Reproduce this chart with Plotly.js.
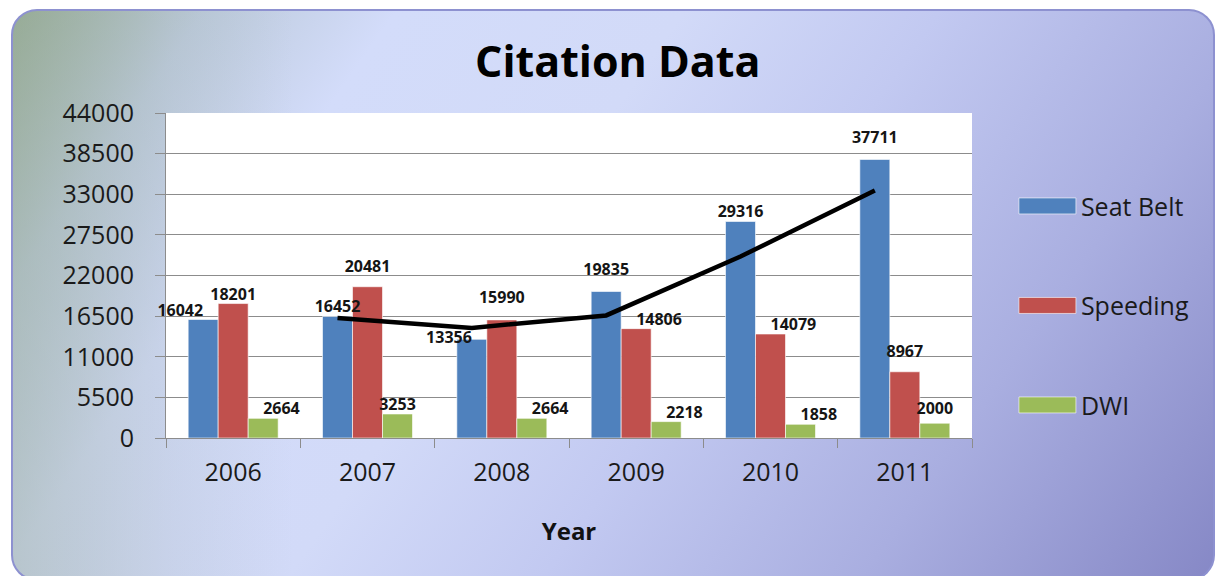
<!DOCTYPE html>
<html>
<head>
<meta charset="utf-8">
<script src="https://cdn.plot.ly/plotly-3.0.1.min.js"></script>
<style>
  html, body { margin: 0; padding: 0; width: 1216px; height: 576px; overflow: hidden; background: #ffffff; }
  #bg {
    position: absolute; left: 11px; top: 9px; width: 1200px; height: 568px;
    border: 2px solid #8d91d0; border-radius: 26px;
    background:
      linear-gradient(90deg, rgba(150,170,150,0.45) 0px, rgba(170,185,190,0.25) 160px, rgba(200,210,240,0) 280px),
      linear-gradient(125deg, #98ad97 0%, #bccadb 12%, #d3dcfa 24%, #d2daf8 42%, #c2c9f1 58%, #a9aee0 78%, #8688c6 100%);
  }
  #chart { position: absolute; left: 0; top: 0; width: 1216px; height: 576px; }
</style>
</head>
<body>
<div id="bg"></div>
<div id="chart"></div>
<script>
const years = ["2006", "2007", "2008", "2009", "2010", "2011"];
const seatBelt = [16042, 16452, 13356, 19835, 29316, 37711];
const speeding = [18201, 20481, 15990, 14806, 14079, 8967];
const dwi = [2664, 3253, 2664, 2218, 1858, 2000];
// 2-period moving average trend line of Seat Belt (as drawn in the chart)
const trendYears = ["2007", "2008", "2009", "2010", "2011"];
const trendValues = [16247, 14904, 16596, 24576, 33514];

const seriesNames = ["Seat Belt", "Speeding", "DWI"];
const colors = ["#4f81bd", "#c0504d", "#9bbb59"];

// data-label placement (style only)
const labelPositions = [
  ["top left", "top center", "middle left", "top center", "top center", "top center"],
  ["top center", "top center", "top center", "top right", "top right", "top center"],
  ["top right", "top center", "top right", "top right", "top right", "top center"]
];
const labelLift = [
  [0, 0, 0, 19, 0, 18],
  [0, 16, 19, 0, 0, 16],
  [0, 0, 0, 0, 0, 6]
];

const bargap = 0.33;
const barW = (1 - bargap) / 3;

const fam = "Open Sans, Noto Sans, sans-serif";
const labelFont = {family: fam, size: 16, color: "#151515", weight: "bold"};

function barTrace(name, vals, color, grp) {
  return {
    type: "bar", name: name, x: years, y: vals,
    marker: {color: color, line: {color: "rgba(255,255,255,0.6)", width: 1}},
    legendgroup: grp, hoverinfo: "x+y+name"
  };
}
function labelTrace(vals, k) {
  return {
    type: "scatter", mode: "markers+text", xaxis: "x2", yaxis: "y",
    x: years.map((y, i) => i + (k - 1) * barW), y: vals,
    marker: {size: labelLift[k], opacity: 0, color: "rgba(0,0,0,0)"},
    text: vals.map(v => String(v)), textposition: labelPositions[k],
    textfont: labelFont, showlegend: false, cliponaxis: false, hoverinfo: "skip"
  };
}

const traces = [
  barTrace(seriesNames[0], seatBelt, colors[0], "g1"),
  barTrace(seriesNames[1], speeding, colors[1], "g2"),
  barTrace(seriesNames[2], dwi, colors[2], "g3"),
  {
    type: "scatter", mode: "lines", xaxis: "x2", yaxis: "y",
    x: trendYears.map(y => years.indexOf(y) - barW),
    y: trendValues, line: {color: "#000000", width: 4.5}, showlegend: false,
    name: "2 per. Mov. Avg. (Seat Belt)"
  },
  labelTrace(seatBelt, 0),
  labelTrace(speeding, 1),
  labelTrace(dwi, 2)
];

const tickFont = {family: fam, size: 25, color: "#1a1a1a"};

const layout = {
  width: 1216, height: 576,
  paper_bgcolor: "rgba(0,0,0,0)", plot_bgcolor: "#ffffff",
  margin: {l: 166, r: 244, t: 113, b: 138, pad: 0},
  title: {text: "Citation Data", x: 0.508, xanchor: "center", y: 0.892, yanchor: "middle",
          font: {family: fam, size: 43, color: "#000000", weight: "bold"}},
  barmode: "group", bargap: bargap, bargroupgap: 0,
  xaxis: {
    type: "category", showgrid: false, zeroline: false,
    showline: true, linecolor: "#8c8c8c", linewidth: 1,
    ticks: "outside", tickson: "boundaries", ticklen: 9, tickcolor: "#8c8c8c",
    tickfont: tickFont, ticklabelstandoff: 12,
    title: {text: "Year", standoff: 36, font: {family: fam, size: 24, color: "#111111", weight: "bold"}}
  },
  xaxis2: {overlaying: "x", type: "linear", range: [-0.5, 5.5], visible: false},
  yaxis: {
    range: [0, 44000], dtick: 5500, tick0: 0, tickformat: "d",
    showgrid: true, gridcolor: "#8c8c8c", gridwidth: 1, zeroline: false,
    showline: true, linecolor: "#8c8c8c", linewidth: 1,
    ticks: "outside", ticklen: 10, tickcolor: "#8c8c8c",
    tickfont: tickFont, ticklabelstandoff: 16
  },
  legend: {
    x: 1.052, xanchor: "left", y: 0.784, yanchor: "top",
    traceorder: "grouped", tracegroupgap: 64, itemwidth: 57,
    font: {family: fam, size: 25, color: "#1a1a1a"},
    bgcolor: "rgba(0,0,0,0)"
  },
  showlegend: true
};

Plotly.newPlot("chart", traces, layout, {displayModeBar: false, staticPlot: true}).then(gd => {
  // widen the legend swatches to the long rectangles of the original chart
  gd.querySelectorAll(".legend .legendpoints path").forEach(p => {
    p.setAttribute("d", "M-28.5,-8H28.5V8H-28.5Z");
  });
});
</script>
</body>
</html>
